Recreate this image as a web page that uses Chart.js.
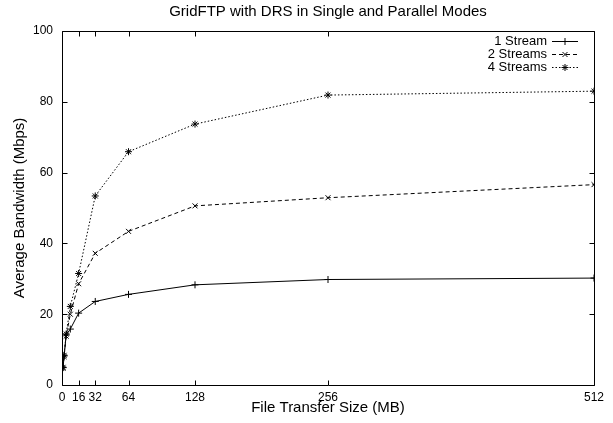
<!DOCTYPE html>
<html>
<head>
<meta charset="utf-8">
<script src="https://cdn.jsdelivr.net/npm/chart.js@4/dist/chart.umd.min.js"></script>
<style>
  html, body { margin: 0; padding: 0; background: #fff; }
  #wrap { width: 613px; height: 423px; }
</style>
</head>
<body>
<div id="wrap"><canvas id="c" width="613" height="423"></canvas></div>
<script>
const chartTitle = "GridFTP with DRS in Single and Parallel Modes";
const xAxisTitle = "File Transfer Size (MB)";
const yAxisTitle = "Average Bandwidth (Mbps)";
const xTickValues = [0, 16, 32, 64, 128, 256, 512];
const yTickValues = [0, 20, 40, 60, 80, 100];
const fileSizes = [1, 2, 4, 8, 16, 32, 64, 128, 256, 512];
const seriesNames = ["1 Stream", "2 Streams", "4 Streams"];
const oneStream = [4.9, 8.2, 14.1, 15.8, 20.3, 23.6, 25.6, 28.3, 29.8, 30.2];
const twoStreams = [4.7, 8.0, 13.8, 20.0, 28.6, 37.2, 43.4, 50.6, 52.9, 56.6];
const fourStreams = [5.0, 8.4, 14.4, 22.2, 31.5, 53.4, 65.9, 73.7, 81.9, 83.0];

const FONT = "'Liberation Sans', Arial, Helvetica, sans-serif";
const styles = [
  { dash: [], point: 'cross' },
  { dash: [4, 3], point: 'crossRot' },
  { dash: [1.5, 2], point: 'star' }
];
const seriesValues = [oneStream, twoStreams, fourStreams];

const datasets = seriesNames.map((name, i) => ({
  label: name,
  data: fileSizes.map((x, j) => ({ x: x, y: seriesValues[i][j] })),
  borderColor: '#000',
  backgroundColor: '#000',
  borderWidth: 1,
  borderDash: styles[i].dash,
  pointStyle: styles[i].point,
  pointRadius: 3.5,
  pointBorderWidth: 1,
  pointBorderColor: '#000',
  pointHoverRadius: 3.5,
  tension: 0,
  fill: false
}));

const framePlugin = {
  id: 'frame',
  afterDatasetsDraw(chart) {
    const ctx = chart.ctx;
    const a = chart.chartArea;
    const xs = chart.scales.x, ys = chart.scales.y;
    ctx.save();
    ctx.strokeStyle = '#000';
    ctx.lineWidth = 1;
    ctx.setLineDash([]);
    ctx.beginPath();
    const L = Math.round(a.left) + 0.5, R = Math.round(a.right) + 0.5;
    const T = Math.round(a.top) + 0.5, B = Math.round(a.bottom) + 0.5;
    ctx.rect(L, T, R - L, B - T);
    const tl = 5;
    xTickValues.forEach(v => {
      const px = Math.round(xs.getPixelForValue(v)) + 0.5;
      ctx.moveTo(px, B); ctx.lineTo(px, B - tl);
      ctx.moveTo(px, T); ctx.lineTo(px, T + tl);
    });
    yTickValues.forEach(v => {
      const py = Math.round(ys.getPixelForValue(v)) + 0.5;
      ctx.moveTo(L, py); ctx.lineTo(L + tl, py);
      ctx.moveTo(R, py); ctx.lineTo(R - tl, py);
    });
    ctx.stroke();

    // legend (gnuplot style: text right-aligned, then sample)
    ctx.font = '13px ' + FONT;
    ctx.fillStyle = '#000';
    ctx.textAlign = 'right';
    ctx.textBaseline = 'middle';
    const textRight = 547, sx0 = 552, sx1 = 578, y0 = 41.5, dy = 13;
    chart.data.datasets.forEach((ds, i) => {
      const y = y0 + i * dy;
      ctx.fillText(ds.label, textRight, y);
      ctx.beginPath();
      ctx.setLineDash(ds.borderDash);
      ctx.moveTo(sx0, y); ctx.lineTo(sx1, y);
      ctx.stroke();
      ctx.setLineDash([]);
      Chart.helpers.drawPoint(ctx, { pointStyle: ds.pointStyle, radius: 3.5, borderWidth: 1 }, (sx0 + sx1) / 2, y);
    });
    ctx.restore();
  }
};

new Chart(document.getElementById('c'), {
  type: 'line',
  data: { datasets: datasets },
  plugins: [framePlugin],
  options: {
    responsive: false,
    animation: false,
    layout: { padding: { left: 0, right: 19, top: 0, bottom: 0 } },
    plugins: {
      legend: { display: false },
      tooltip: { enabled: false },
      title: {
        display: true,
        text: chartTitle,
        fullSize: false,
        color: '#000',
        font: { family: FONT, size: 15, weight: 'normal' },
        padding: { top: 3, bottom: 10 }
      }
    },
    scales: {
      x: {
        type: 'linear',
        min: 0, max: 512,
        afterBuildTicks: s => { s.ticks = xTickValues.map(v => ({ value: v })); },
        afterFit: s => { s.height = 38; },
        grid: { display: false, drawTicks: false, tickLength: 0 },
        border: { display: false },
        ticks: { color: '#000', font: { family: FONT, size: 12 }, padding: 5, maxRotation: 0, autoSkip: false },
        title: { display: true, text: xAxisTitle, color: '#000', font: { family: FONT, size: 15 }, padding: { top: 0, bottom: 6 } }
      },
      y: {
        min: 0, max: 100,
        afterBuildTicks: s => { s.ticks = yTickValues.map(v => ({ value: v })); },
        afterFit: s => { s.width = 62; },
        grid: { display: false, drawTicks: false, tickLength: 0 },
        border: { display: false },
        ticks: { color: '#000', font: { family: FONT, size: 12 }, padding: 9 },
        title: { display: true, text: yAxisTitle, color: '#000', font: { family: FONT, size: 15 }, padding: { top: 11, bottom: 0 } }
      }
    }
  }
});
</script>
</body>
</html>
